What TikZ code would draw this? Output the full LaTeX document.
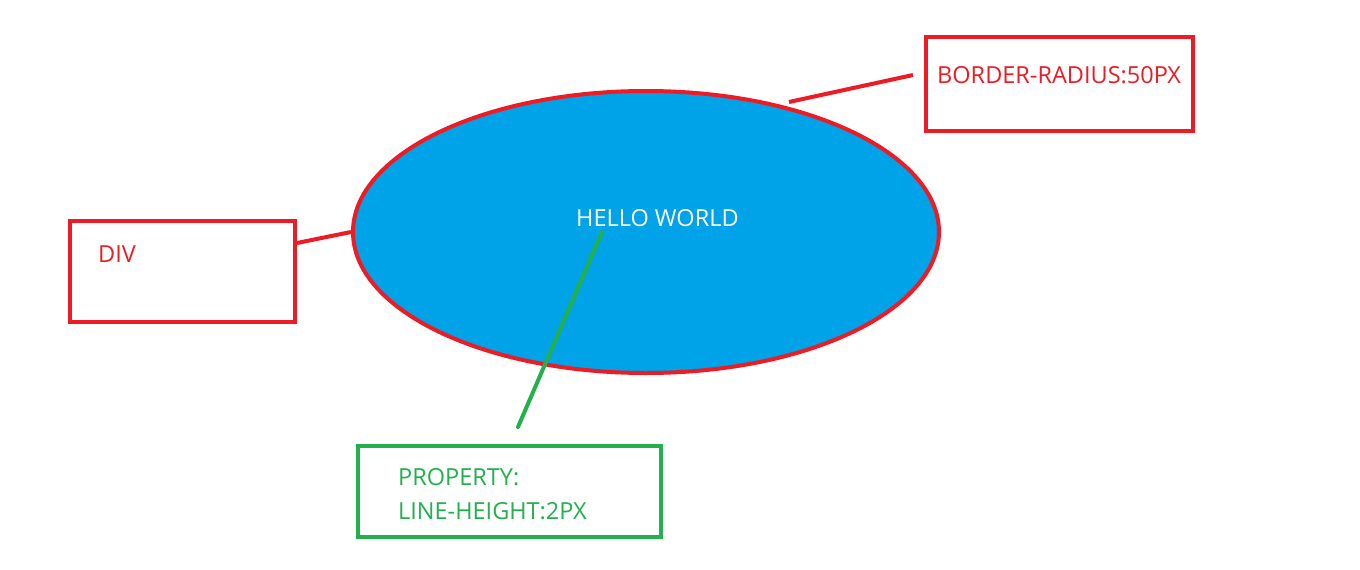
\documentclass[tikz,border=0pt]{standalone}
\usepackage{fontspec}
\setmainfont{Open Sans}
\usetikzlibrary{shapes.geometric}
\definecolor{pred}{HTML}{ED1C24}
\definecolor{pgreen}{HTML}{22B14C}
\definecolor{pblue}{HTML}{00A2E8}
\begin{document}
\begin{tikzpicture}[x=1pt,y=-1pt,
  lab/.style={anchor=west,inner sep=0pt,font=\fontsize{23.5}{28}\selectfont},
  redline/.style={draw=pred,line width=4pt},
  greenline/.style={draw=pgreen,line width=4pt}]
\useasboundingbox (0,0) rectangle (1360,570);
\fill[white] (0,0) rectangle (1360,570);
% ellipse
\node[ellipse,draw=pred,fill=pblue,line width=4pt,minimum width=586pt,minimum height=282pt,inner sep=0pt] (ell) at (646,232) {};
\node[lab,text=white] (hello) at (576,218) {HELLO WORLD};
% boxes
\node[draw=pred,line width=4pt,minimum width=267pt,minimum height=94pt,inner sep=0pt] (brbox) at (1059.5,84) {};
\node[lab,text=pred] (brtext) at (937,75) {BORDER-RADIUS:50PX};
\node[draw=pred,line width=4pt,minimum width=225pt,minimum height=101pt,inner sep=0pt] (divbox) at (182.5,271.5) {};
\node[lab,text=pred] (divtext) at (98,254) {DIV};
\node[draw=pgreen,line width=4pt,minimum width=303pt,minimum height=91pt,inner sep=0pt] (pbox) at (509.5,491.5) {};
\node[lab,text=pgreen] (ptext1) at (398,477) {PROPERTY:};
\node[lab,text=pgreen] (ptext2) at (398,511) {LINE-HEIGHT:2PX};
% connectors
\coordinate (brend) at (913,75);
\coordinate (brstart) at (789,102);
\draw[redline] (brstart) -- (brend);
\draw[redline] (divbox.east |- 0,243) -- (ell.west);
\coordinate (gstart) at (602,232);
\coordinate (gend) at (518,427);
\draw[greenline,line cap=round] (gstart) -- (gend);
\end{tikzpicture}
\end{document}
